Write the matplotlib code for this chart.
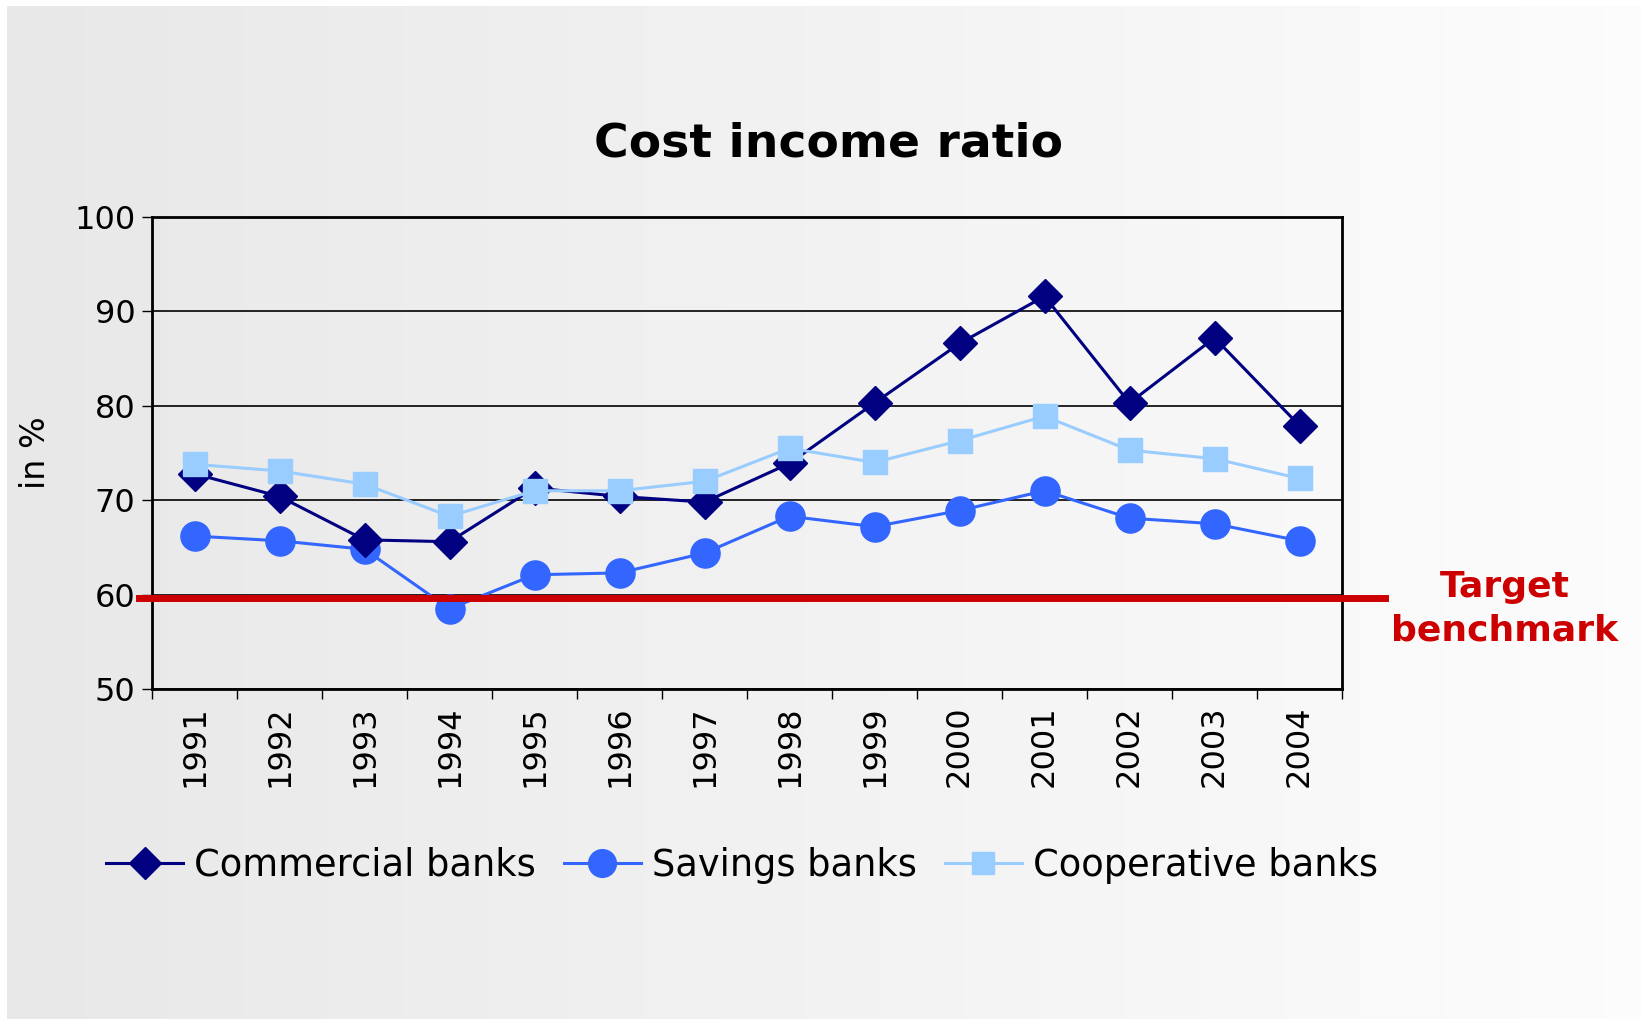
import numpy as np
import matplotlib.pyplot as plt

# data
years = [str(y) for y in range(1991, 2005)]
commercial = [72.8, 70.4, 65.8, 65.6, 71.3, 70.4, 69.8, 73.9, 80.3, 86.6, 91.6, 80.3, 87.2, 77.9]
savings = [66.2, 65.7, 64.8, 58.5, 62.1, 62.3, 64.4, 68.3, 67.2, 68.9, 71.0, 68.1, 67.5, 65.7]
cooperative = [73.8, 73.1, 71.7, 68.3, 71.0, 71.0, 72.0, 75.5, 74.0, 76.3, 78.9, 75.3, 74.4, 72.3]
target = 59.6
y_ticks = [50, 60, 70, 80, 90, 100]

W, H = 1641, 1019
fig = plt.figure(figsize=(W / 100, H / 100), dpi=100)
fig.patch.set_facecolor('white')

# gradient background (grey on the left fading to white)
bg = fig.add_axes([7 / W, 0, 1 - 7 / W, 1 - 6 / H], zorder=0)
grad = np.linspace(0.91, 0.99, 256).reshape(1, -1)
bg.imshow(np.dstack([grad] * 3), aspect='auto', extent=[0, 1, 0, 1])
bg.axis('off')

ax = fig.add_axes([152 / W, 1 - 689 / H, (1342 - 152) / W, (689 - 217) / H], zorder=1)
ax.patch.set_alpha(0)

x = np.arange(len(years))
ax.plot(x, commercial, color='#000080', lw=2.2, marker='D', ms=17, label='Commercial banks', zorder=4)
ax.plot(x, savings, color='#3366FF', lw=2.2, marker='o', ms=21, label='Savings banks', zorder=3)
ax.plot(x, cooperative, color='#99CCFF', lw=2.2, marker='s', ms=17, label='Cooperative banks', zorder=5)

ax.set_xlim(-0.5, len(years) - 0.5)
ax.set_ylim(50, 100)
ax.set_yticks(y_ticks)
ax.yaxis.grid(True, color='black', lw=1.2)
ax.set_axisbelow(True)

# category ticks sit between the years, labels at the years
ax.set_xticks(np.arange(-0.5, len(years)), minor=False)
ax.set_xticklabels([])
ax.set_xticks(x, minor=True)
ax.set_xticklabels(years, minor=True, rotation=90, fontsize=23)
ax.tick_params(axis='x', which='minor', length=0, pad=12)
ax.tick_params(axis='x', which='major', length=7, width=1, direction='out')
ax.tick_params(axis='y', length=7, width=1, labelsize=23, pad=5)
for s in ax.spines.values():
    s.set_linewidth(2)

ax.set_ylabel('in %', fontsize=24, labelpad=16)

# target line reaches out past both sides of the plot
ax.plot([-0.011, 1.036], [target, target], transform=ax.get_yaxis_transform(),
        color='#CC0000', lw=5, clip_on=False, zorder=6)
ax.text(1.137, target - 1.1, 'Target\nbenchmark', transform=ax.get_yaxis_transform(),
        color='#CC0000', fontsize=26, fontweight='bold', ha='center', va='center',
        linespacing=1.35)

fig.text(829 / W, 1 - 144 / H, 'Cost income ratio', fontsize=34, fontweight='bold',
         ha='center', va='center')

handles, labels = ax.get_legend_handles_labels()
fig.legend(handles, labels, loc='center', bbox_to_anchor=(742 / W, 1 - 865 / H), ncol=3,
           frameon=False, fontsize=26.5, handlelength=2.1, handletextpad=0.3,
           columnspacing=0.75, markerscale=0.95)

fig.savefig('out.png', dpi=100)
